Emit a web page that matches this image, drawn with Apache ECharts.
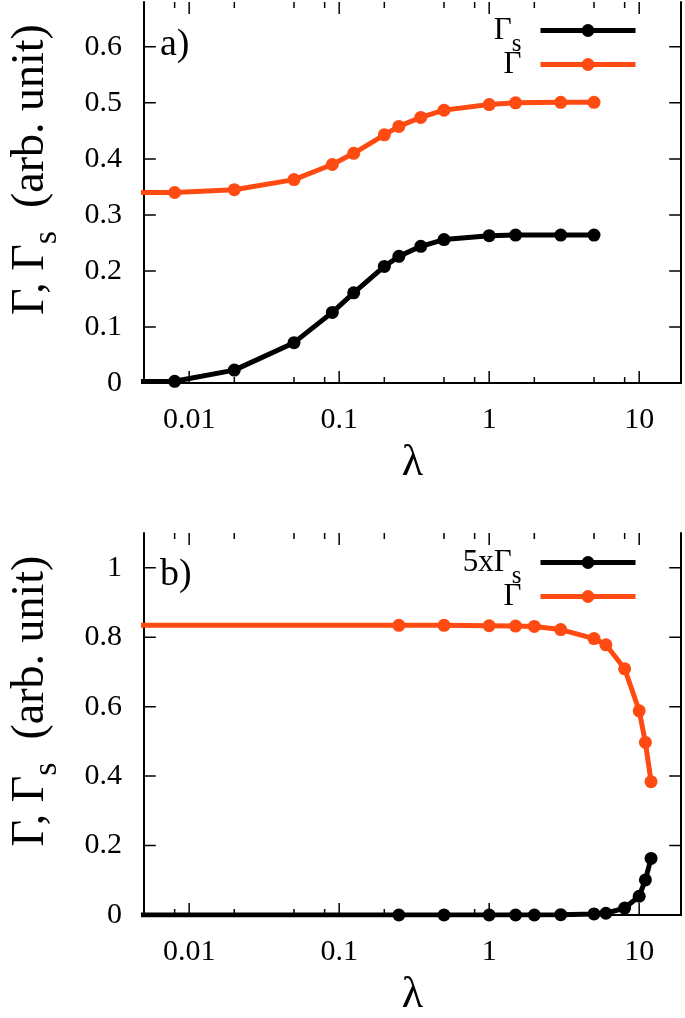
<!DOCTYPE html>
<html><head><meta charset="utf-8">
<script src="https://cdn.jsdelivr.net/npm/echarts@6/dist/echarts.min.js"></script>
<style>html,body{margin:0;padding:0;background:#fff}#c{width:685px;height:1018px}#err{position:absolute;left:2px;bottom:2px;font:10px sans-serif;color:#c00;max-width:680px}</style>
</head><body><div id="c"></div><div id="err"></div>
<script>
const __errs = [];
window.addEventListener('error', e => __errs.push('E: ' + e.message));
const __ce = console.error; console.error = (...a) => { __errs.push('C: ' + a.map(String).join(' ')); __ce.apply(console, a); };

// ---- data (panel a) ----
const lambdaA = [0.001, 0.008, 0.02, 0.05, 0.09, 0.125, 0.2, 0.25, 0.35, 0.5, 1, 1.5, 3, 5];
const gammaS_A = [0.002, 0.003, 0.023, 0.072, 0.126, 0.161, 0.208, 0.226, 0.244, 0.256, 0.263, 0.264, 0.264, 0.264];
const gamma_A = [0.34, 0.34, 0.345, 0.363, 0.39, 0.41, 0.443, 0.458, 0.474, 0.487, 0.497, 0.5, 0.501, 0.501];
// ---- data (panel b) ----
const lambdaB = [0.001, 0.25, 0.5, 1, 1.5, 2, 3, 5, 6, 8, 10, 11, 12];
const gamma5S_B = [0, 0, 0, 0, 0, 0, 0.001, 0.003, 0.005, 0.02, 0.054, 0.101, 0.163];
const gamma_B = [0.834, 0.834, 0.834, 0.833, 0.832, 0.831, 0.822, 0.796, 0.778, 0.709, 0.588, 0.497, 0.384];
// ---- ticks / labels ----
const xMajorTicks = [0.01, 0.1, 1, 10];
const xMinorTicks = [0.008, 0.02, 0.05, 0.08, 0.2, 0.5, 0.8, 2, 5, 8];
const xLabels = ['0.01', '0.1', '1', '10'];
const yTicksA = [0.1, 0.2, 0.3, 0.4, 0.5, 0.6];
const yTicksB = [0.2, 0.4, 0.6, 0.8, 1.0];

const FONT = 'Liberation Serif';
const BLACK = '#000';
const ORANGE = '#ff4a12';
const X_MIN = 0.005, X_MAX = 19;
const Y_MAX_A = 0.68, Y_MAX_B = 1.1;
const GRID_LEFT = 135, GRID_RIGHT = 4, W = 685;
const GRID_W = W - GRID_LEFT - GRID_RIGHT;
const H_A = 381, H_B = 384;
const MAJOR_LEN = 12, MINOR_LEN = 6;

const chart = echarts.init(document.getElementById('c'));

function xAx(grid, position, showLabel) {
  const a = {
    type: 'log', gridIndex: grid, position: position,
    min: X_MIN, max: X_MAX,
    axisLine: {show: true, lineStyle: {color: BLACK, width: 2}},
    axisTick: {show: false},
    splitLine: {show: false},
    axisLabel: {show: false}
  };
  if (showLabel) {
    a.axisLabel = {show: true, customValues: xMajorTicks, margin: 22,
      formatter: v => xLabels[xMajorTicks.findIndex(t => Math.abs(Math.log10(t) - Math.log10(v)) < 1e-6)] ?? String(v),
      fontFamily: FONT, fontSize: 30, color: BLACK};
    a.name = 'λ'; a.nameLocation = 'middle'; a.nameGap = 58;
    a.nameTextStyle = {fontFamily: FONT, fontSize: 44, color: BLACK};
  }
  return a;
}
function yAx(grid, position, max, interval, showLabel) {
  const a = {
    type: 'value', gridIndex: grid, position: position,
    min: 0, max: max, interval: interval,
    axisLine: {show: true, lineStyle: {color: BLACK, width: 2}},
    axisTick: {show: false},
    splitLine: {show: false},
    axisLabel: {show: false}
  };
  if (showLabel) {
    a.axisLabel = {show: true, showMaxLabel: false, margin: 22, fontFamily: FONT, fontSize: 30, color: BLACK};
    a.name = '{g|Γ, Γ}{s|s}{g|  (arb. unit)}';
    a.nameLocation = 'middle'; a.nameRotate = 90; a.nameGap = 80;
    a.nameTextStyle = {fontFamily: FONT, color: BLACK, padding: [0, 0, 0, 46],
      rich: {g: {fontFamily: FONT, fontSize: 46, color: BLACK},
             s: {fontFamily: FONT, fontSize: 34, color: BLACK, padding: [32, 0, 0, 0]}}};
  }
  return a;
}
// tick marks: short segments through the axes' scales (length converted from px to data units)
function segs(list) { const d = []; list.forEach(s => { d.push(s[0], s[1], [s[0][0], '-']); }); return d; }
function tickLine(id, xi, yi, list) {
  return {
    id: id, name: id, type: 'line', xAxisIndex: xi, yAxisIndex: yi,
    data: segs(list), symbol: 'none', showSymbol: false, clip: false, silent: true,
    connectNulls: false, lineStyle: {color: BLACK, width: 1.5}, z: 6,
    emphasis: {disabled: true}, tooltip: {show: false}
  };
}
function panelTicks(tag, xi, yi, yMax, h, yTicks) {
  const dyMaj = MAJOR_LEN * yMax / h, dyMin = MINOR_LEN * yMax / h;
  const kx = Math.pow(10, MAJOR_LEN * Math.log10(X_MAX / X_MIN) / GRID_W);
  const xTicks = [];
  xMajorTicks.forEach(v => { xTicks.push([[v, 0], [v, dyMaj]]); xTicks.push([[v, yMax], [v, yMax - dyMaj]]); });
  xMinorTicks.forEach(v => { xTicks.push([[v, 0], [v, dyMin]]); xTicks.push([[v, yMax], [v, yMax - dyMin]]); });
  const yT = [];
  yTicks.forEach(v => { yT.push([[X_MIN, v], [X_MIN * kx, v]]); yT.push([[X_MAX, v], [X_MAX / kx, v]]); });
  return [tickLine(tag + 'x', xi, yi, xTicks), tickLine(tag + 'y', xi, yi, yT)];
}
function pairs(xs, ys) { return xs.map((x, i) => [x, ys[i]]); }
function line(name, xi, yi, xs, ys, color) {
  return {
    name: name, type: 'line', xAxisIndex: xi, yAxisIndex: yi,
    data: pairs(xs, ys), clip: true,
    symbol: 'circle', symbolSize: 13, showAllSymbol: true,
    lineStyle: {color: color, width: 5}, itemStyle: {color: color},
    z: color === BLACK ? 3 : 2
  };
}
const legendRich = {
  g: {fontFamily: FONT, fontSize: 31, color: BLACK},
  s: {fontFamily: FONT, fontSize: 25, color: BLACK, padding: [28, 0, 0, 0]}
};
function legendFmt(n) {
  if (n === 'Γs') return '{g|Γ}{s|s}';
  if (n === '5xΓs') return '{g|5xΓ}{s|s}';
  return '{g|Γ}';
}
function leg(name, top) {
  return {
    data: [name], right: 42, top: top, orient: 'vertical', align: 'right',
    itemWidth: 95, itemHeight: 16, selectedMode: false,
    lineStyle: {width: 5},
    formatter: legendFmt,
    textStyle: {fontFamily: FONT, fontSize: 31, color: BLACK, padding: [0, 14, 0, 0], rich: legendRich}
  };
}

const option = {
  animation: false,
  grid: [
    {left: GRID_LEFT, right: GRID_RIGHT, top: 2, height: H_A},
    {left: GRID_LEFT, right: GRID_RIGHT, top: 533, height: H_B}
  ],
  graphic: [
    {type: 'text', left: 160, top: 26, style: {text: 'a)', font: '38px "Liberation Serif"', fill: BLACK}},
    {type: 'text', left: 160, top: 556, style: {text: 'b)', font: '38px "Liberation Serif"', fill: BLACK}}
  ],
  legend: [leg('Γs', 10), leg('Γ', 44), leg('5xΓs', 542), leg('Γ ', 576)],
  xAxis: [
    xAx(0, 'bottom', true),
    xAx(0, 'top', false),
    xAx(1, 'bottom', true),
    xAx(1, 'top', false)
  ],
  yAxis: [
    yAx(0, 'left', Y_MAX_A, 0.1, true),
    yAx(0, 'right', Y_MAX_A, 0.1, false),
    yAx(1, 'left', Y_MAX_B, 0.2, true),
    yAx(1, 'right', Y_MAX_B, 0.2, false)
  ],
  series: [
    line('Γs', 0, 0, lambdaA, gammaS_A, BLACK),
    line('Γ', 0, 0, lambdaA, gamma_A, ORANGE),
    line('5xΓs', 2, 2, lambdaB, gamma5S_B, BLACK),
    line('Γ ', 2, 2, lambdaB, gamma_B, ORANGE),
    ...panelTicks('ta', 0, 0, Y_MAX_A, H_A, yTicksA),
    ...panelTicks('tb', 2, 2, Y_MAX_B, H_B, yTicksB)
  ]
};
try { chart.setOption(option); } catch (e) { __errs.push('T: ' + e.message); }
if (__errs.length) document.getElementById('err').textContent = __errs.join(' | ').slice(0, 400);
</script>
</body></html>
